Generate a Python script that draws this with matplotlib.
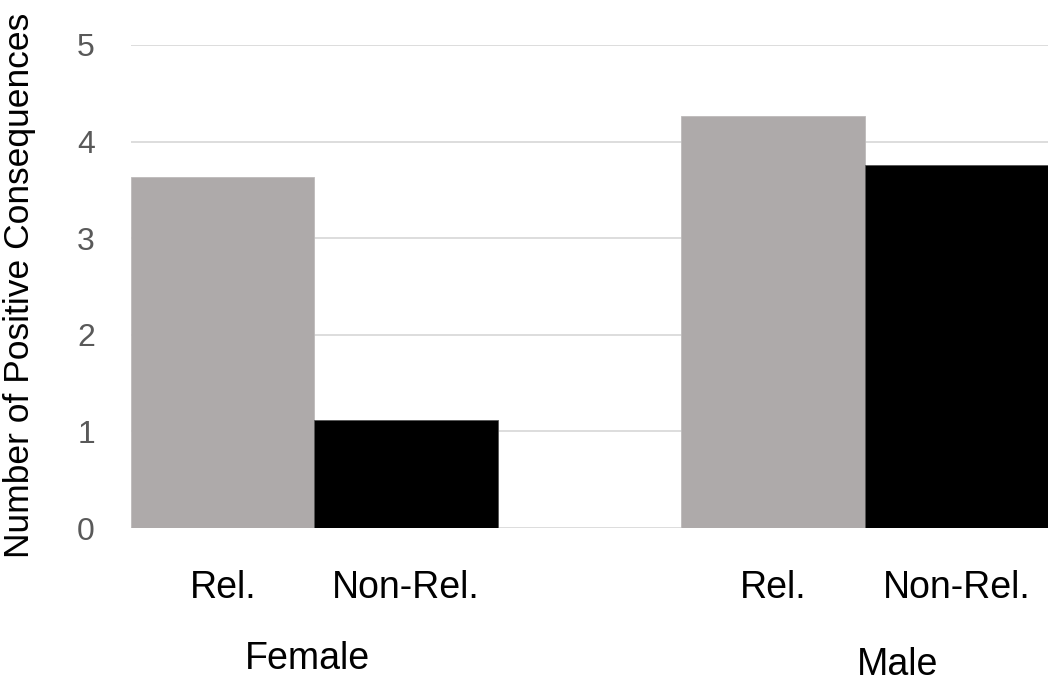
import matplotlib
matplotlib.use('Agg')
import matplotlib.pyplot as plt
import numpy as np

# values
groups = ['Female', 'Male']
bar_labels = ['Rel.', 'Non-Rel.']
rel = [3.63, 4.27]
non_rel = [1.115, 3.76]
yticks = [0, 1, 2, 3, 4, 5]

plt.rcParams['font.family'] = ['Liberation Sans', 'DejaVu Sans']

fig = plt.figure(figsize=(10.5, 6.82), dpi=100)
ax = fig.add_axes([131/1050, 1-528/682, 917/1050, 483/682])

# each group: two bars of width 1, one empty slot between groups
x_rel = np.array([0.5, 3.5])
x_non = x_rel + 1
ax.bar(x_rel, rel, width=1, color='#AEAAAA', edgecolor='#BDBABA', linewidth=0.6, zorder=3)
ax.bar(x_non, non_rel, width=1, color='black', edgecolor='#555555', linewidth=0.6, zorder=3)

ax.set_xlim(0, 5)
ax.set_ylim(0, 5)
ax.set_yticks(yticks)
ax.set_yticklabels([str(v) for v in yticks], fontsize=23, color='#595959')
ax.tick_params(axis='y', length=0, pad=26)
ax.yaxis.grid(True, color='#DDDDDD', linewidth=1.4, zorder=0)
ax.axhline(0, color='#DDDDDD', linewidth=1.4, zorder=1)
for s in ax.spines.values():
    s.set_visible(False)

xs = np.concatenate([[x_rel[i], x_non[i]] for i in range(len(groups))])
ax.set_xticks(xs)
ax.set_xticklabels(bar_labels * len(groups), fontsize=27)
ax.tick_params(axis='x', length=0, pad=30)

# group labels under the bar labels
tr = ax.get_xaxis_transform()
ax.text(x_rel[0] + 0.46, -0.272, groups[0], transform=tr, ha='center', va='center', fontsize=27)
ax.text(x_rel[1] + 0.68, -0.284, groups[1], transform=tr, ha='center', va='center', fontsize=27)

fig.text(20/1050, 1-285/682, 'Number of Positive Consequences', rotation=90,
         ha='center', va='center', fontsize=25.5)

fig.savefig('out.png', dpi=100)
